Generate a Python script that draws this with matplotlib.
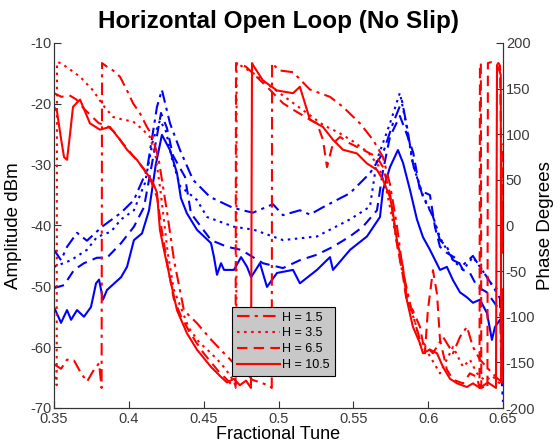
import matplotlib
matplotlib.use("Agg")
import matplotlib.pyplot as plt

plt.rcParams['font.family'] = ['Liberation Sans', 'DejaVu Sans']
plt.rcParams['axes.unicode_minus'] = False

# ---------------- data ----------------
labels = ["H = 1.5", "H = 3.5", "H = 6.5", "H = 10.5"]

# Amplitude (dBm), blue, left axis
amp_h15_x = [0.3500, 0.3547, 0.3587, 0.3654, 0.3720, 0.3821, 0.3948, 0.4034, 0.4121, 0.4188, 0.4221,
             0.4275, 0.4342, 0.4429, 0.4542, 0.4696, 0.4829, 0.4963, 0.5030, 0.5143, 0.5210, 0.5297,
             0.5390, 0.5477, 0.5611, 0.5698, 0.5765, 0.5825, 0.5860, 0.5900, 0.5965, 0.6032, 0.6079,
             0.6125, 0.6166, 0.6233, 0.6299, 0.6346, 0.6393, 0.6433, 0.6480, 0.6490, 0.6500]
amp_h15_y = [-44.0, -45.7, -43.5, -41.2, -42.5, -40.2, -37.9, -35.8, -30.9, -20.5, -17.7,
             -23.2, -27.6, -32.5, -35.3, -37.1, -37.9, -36.5, -38.3, -37.5, -38.2, -37.0,
             -35.8, -34.7, -31.4, -28.1, -23.2, -19.5, -24.0, -30.0, -35.3, -38.5, -42.4,
             -43.5, -45.7, -46.5, -45.0, -46.8, -48.5, -50.0, -52.0, -65.0, -69.0]

amp_h35_x = [0.3500, 0.3614, 0.3720, 0.3787, 0.3881, 0.3948, 0.4034, 0.4108, 0.4161, 0.4208, 0.4248,
             0.4288, 0.4342, 0.4455, 0.4522, 0.4702, 0.4836, 0.5030, 0.5257, 0.5477, 0.5611, 0.5658,
             0.5745, 0.5811, 0.5858, 0.5898, 0.5965, 0.6032, 0.6079, 0.6125, 0.6166, 0.6233, 0.6299,
             0.6346, 0.6393, 0.6433, 0.6500]
amp_h35_y = [-46.8, -45.7, -44.0, -41.9, -41.0, -39.0, -37.5, -33.0, -26.0, -22.7, -24.5,
             -29.0, -33.5, -35.8, -38.6, -40.2, -40.7, -42.4, -41.8, -39.0, -36.9, -29.2,
             -23.2, -18.2, -24.0, -30.0, -35.0, -38.5, -42.0, -44.0, -45.7, -47.3, -45.2,
             -46.8, -48.5, -50.0, -51.0]

amp_h65_x = [0.3500, 0.3567, 0.3634, 0.3700, 0.3787, 0.3854, 0.3948, 0.4034, 0.4101, 0.4161, 0.4215,
             0.4255, 0.4295, 0.4375, 0.4415, 0.4549, 0.4656, 0.4750, 0.4896, 0.5030, 0.5143, 0.5257,
             0.5364, 0.5477, 0.5564, 0.5658, 0.5698, 0.5745, 0.5811, 0.5850, 0.5900, 0.5945, 0.6012,
             0.6045, 0.6079, 0.6125, 0.6193, 0.6233, 0.6279, 0.6326, 0.6393, 0.6460, 0.6500]
amp_h65_y = [-50.3, -49.8, -47.3, -46.2, -45.3, -45.3, -42.9, -40.2, -37.0, -29.0, -21.5,
             -24.0, -28.5, -32.0, -38.0, -42.4, -43.5, -44.0, -46.2, -47.0, -45.7, -44.8,
             -43.5, -41.8, -40.2, -37.5, -31.0, -25.4, -22.0, -24.5, -28.0, -34.2, -35.0,
             -40.2, -43.5, -44.5, -45.5, -47.3, -47.8, -50.0, -51.0, -53.3, -55.0]

amp_h105_x = [0.3500, 0.3547, 0.3587, 0.3614, 0.3654, 0.3700, 0.3747, 0.3781, 0.3801, 0.3827, 0.3854,
              0.3948, 0.3988, 0.4034, 0.4088, 0.4135, 0.4180, 0.4221, 0.4275, 0.4322, 0.4348, 0.4388,
              0.4455, 0.4549, 0.4569, 0.4589, 0.4616, 0.4636, 0.4702, 0.4750, 0.4790, 0.4817, 0.4876,
              0.4923, 0.4990, 0.5097, 0.5143, 0.5257, 0.5344, 0.5364, 0.5478, 0.5591, 0.5678, 0.5698,
              0.5745, 0.5798, 0.5832, 0.5879, 0.5925, 0.5965, 0.6012, 0.6079, 0.6125, 0.6166, 0.6213,
              0.6259, 0.6299, 0.6346, 0.6393, 0.6426, 0.6446, 0.6480, 0.6500]
amp_h105_y = [-53.4, -56.0, -53.9, -55.5, -53.9, -55.0, -53.4, -49.5, -48.9, -52.2, -50.6,
              -48.5, -46.8, -42.4, -41.3, -37.5, -30.0, -25.1, -27.6, -31.4, -35.5, -38.0,
              -40.7, -42.9, -45.2, -48.1, -46.2, -47.3, -47.3, -45.2, -46.8, -48.5, -46.2,
              -50.1, -47.8, -47.3, -49.5, -47.3, -45.2, -47.3, -44.0, -41.8, -38.6, -34.2,
              -30.4, -27.6, -29.7, -34.2, -39.0, -41.9, -44.0, -47.3, -46.8, -49.0, -51.0,
              -51.8, -52.7, -52.2, -54.4, -58.8, -56.7, -55.5, -55.0]

# Phase (degrees), red, right axis
ph_h15_x = [0.3500, 0.3547, 0.3587, 0.3634, 0.3681, 0.3721, 0.3767, 0.3801, 0.3818, 0.3821, 0.3854,
            0.3894, 0.3941, 0.3988, 0.4028, 0.4074, 0.4121, 0.4155, 0.4200, 0.4255, 0.4302, 0.4368,
            0.4455, 0.4549, 0.4636, 0.4702, 0.4790, 0.4823, 0.4877, 0.4930, 0.4955, 0.4957, 0.5003,
            0.5097, 0.5210, 0.5344, 0.5431, 0.5544, 0.5631, 0.5698, 0.5745, 0.5791, 0.5831, 0.5878,
            0.5918, 0.5945, 0.6032, 0.6099, 0.6166, 0.6213, 0.6259, 0.6299, 0.6346, 0.6390, 0.6430,
            0.6465, 0.6500]
ph_h15_y = [-152, -157, -147, -148, -162, -171, -158, -151, -178, 178, 174,
            170, 163, 148, 134, 123, 108, 99, 72, 15, -38, -93,
            -107, -125, -140, -151, -162, -169, -172, -175, -178, 178, 170,
            168, 149, 141, 130, 112, 94, 75, 45, 0, -50, -85,
            -110, -125, -140, -122, -140, -122, -111, -133, -147, -155, -162,
            -168, -172]

ph_h35_x = [0.3500, 0.3512, 0.3518, 0.3520, 0.3547, 0.3674, 0.3761, 0.3827, 0.3894, 0.3961, 0.4028,
            0.4094, 0.4141, 0.4180, 0.4210, 0.4235, 0.4260, 0.4300, 0.4355, 0.4400, 0.4470, 0.4550,
            0.4620, 0.4680, 0.4718, 0.4720, 0.4780, 0.4850, 0.4900, 0.5000, 0.5100, 0.5200, 0.5300,
            0.5400, 0.5500, 0.5600, 0.5670, 0.5720, 0.5770, 0.5820, 0.5870, 0.5920, 0.5945, 0.6000,
            0.6079, 0.6166, 0.6233, 0.6279, 0.6326, 0.6380, 0.6430, 0.6470, 0.6500]
ph_h35_y = [-158, -170, -175, 179, 178, 163, 148, 132, 119, 116, 114,
            105, 97, 75, 40, 5, -30, -70, -93, -112, -128, -140,
            -152, -165, -177, 178, 172, 165, 158, 146, 134, 122, 110,
            102, 92, 80, 65, 40, 0, -45, -85, -110, -130, -140,
            -162, -133, -155, -147, -162, -170, -165, -172, -175]

ph_h65_x = [0.3500, 0.3550, 0.3600, 0.3650, 0.3700, 0.3750, 0.3800, 0.3850, 0.3900, 0.3950, 0.4000,
            0.4050, 0.4100, 0.4150, 0.4190, 0.4220, 0.4260, 0.4300, 0.4350, 0.4400, 0.4450, 0.4500,
            0.4550, 0.4600, 0.4650, 0.4690, 0.4713, 0.4716, 0.4736, 0.4783, 0.4923, 0.5030, 0.5097,
            0.5210, 0.5257, 0.5297, 0.5324, 0.5364, 0.5411, 0.5477, 0.5564, 0.5658, 0.5698, 0.5745,
            0.5791, 0.5831, 0.5858, 0.5898, 0.5945, 0.5978, 0.5998, 0.6032, 0.6059, 0.6079, 0.6125,
            0.6166, 0.6233, 0.6279, 0.6326, 0.6343, 0.6346, 0.6352, 0.6355, 0.6380, 0.6396, 0.6399,
            0.6420, 0.6450, 0.6470, 0.6480, 0.6490, 0.6495, 0.6500]
ph_h65_y = [145, 141, 143, 138, 128, 120, 112, 110, 103, 92, 82,
            72, 62, 48, 30, -5, -45, -80, -100, -115, -128, -140,
            -150, -160, -168, -175, -178, 178, 177, 174, 152, 134, 127,
            116, 112, 94, 64, 90, 97, 90, 83, 75, 64, 35,
            -20, -55, -85, -93, -111, -140, -93, -49, -75, -125, -158,
            -169, -173, -162, -166, -178, 178, 178, -178, -176, -178, 178,
            179, 176, 178, 175, 60, -30, 90]

ph_h105_x = [0.3500, 0.3520, 0.3547, 0.3567, 0.3587, 0.3607, 0.3627, 0.3674, 0.3707, 0.3740, 0.3807,
             0.3874, 0.3907, 0.3941, 0.3988, 0.4054, 0.4121, 0.4161, 0.4188, 0.4208, 0.4235, 0.4282,
             0.4322, 0.4388, 0.4455, 0.4549, 0.4616, 0.4656, 0.4702, 0.4742, 0.4783, 0.4816, 0.4823,
             0.4829, 0.4896, 0.4990, 0.5097, 0.5143, 0.5210, 0.5297, 0.5364, 0.5431, 0.5524, 0.5591,
             0.5658, 0.5698, 0.5745, 0.5765, 0.5791, 0.5831, 0.5858, 0.5898, 0.5945, 0.5965, 0.6012,
             0.6059, 0.6099, 0.6146, 0.6193, 0.6259, 0.6299, 0.6346, 0.6399, 0.6453, 0.6460, 0.6475,
             0.6485, 0.6488, 0.6495, 0.6500]
ph_h105_y = [130, 125, 95, 75, 72, 100, 130, 138, 125, 112, 105,
             108, 101, 94, 83, 72, 57, 47, 36, -5, -27, -63,
             -93, -118, -136, -155, -166, -172, -168, -175, -170, -178, 178,
             176, 159, 148, 145, 152, 116, 108, 94, 83, 79, 68,
             61, 50, 31, 14, -16, -45, -82, -111, -129, -140, -136,
             -140, -155, -168, -173, -177, -173, -178, -172, -178, 176, 170,
             165, -172, -150, -70]

x_ticks = [0.35, 0.4, 0.45, 0.5, 0.55, 0.6, 0.65]
x_tick_labels = ["0.35", "0.4", "0.45", "0.5", "0.55", "0.6", "0.65"]
amp_ticks = [-70, -60, -50, -40, -30, -20, -10]
phase_ticks = [-200, -150, -100, -50, 0, 50, 100, 150, 200]

# ---------------- plotting ----------------
W, H = 557, 445
fig = plt.figure(figsize=(W / 100, H / 100), dpi=100)
ax = fig.add_axes([54 / W, (H - 408) / H, 449 / W, 365 / H])
ax2 = ax.twinx()

styles = [dict(linestyle=(0, (6, 2.5, 1.5, 2.5))),
          dict(linestyle=(0, (1.2, 2.2))),
          dict(linestyle=(0, (5, 3))),
          dict(linestyle='-')]

lw = 1.5
amp_x = [amp_h15_x, amp_h35_x, amp_h65_x, amp_h105_x]
amp_y = [amp_h15_y, amp_h35_y, amp_h65_y, amp_h105_y]
ph_x = [ph_h15_x, ph_h35_x, ph_h65_x, ph_h105_x]
ph_y = [ph_h15_y, ph_h35_y, ph_h65_y, ph_h105_y]

for xs, ys, st in zip(amp_x, amp_y, styles):
    ax.plot(xs, ys, color='#0000ff', lw=lw, **st)

handles = []
for xs, ys, st, lab in zip(ph_x, ph_y, styles, labels):
    h, = ax2.plot(xs, ys, color='#ff0000', lw=lw, label=lab, **st)
    handles.append(h)

ax.set_xlim(0.35, 0.65)
ax.set_ylim(-70, -10)
ax2.set_ylim(-200, 200)

ax.set_xticks(x_ticks)
ax.set_xticklabels(x_tick_labels)
ax.set_yticks(amp_ticks)
ax2.set_yticks(phase_ticks)

tick_color = '#3a3a3a'
for a in (ax, ax2):
    a.spines['top'].set_visible(False)
    a.tick_params(direction='in', length=5, width=0.8, labelsize=10.5, labelcolor=tick_color, color='#333333')
    for s in a.spines.values():
        s.set_color('#333333')
        s.set_linewidth(0.8)
ax.tick_params(axis='x', pad=3)
ax.tick_params(axis='y', pad=2)
ax2.tick_params(axis='y', pad=2)

ax.set_xlabel("Fractional Tune", fontsize=13, labelpad=0)
ax.set_ylabel("Amplitude dBm", fontsize=13.5, labelpad=6)
ax2.set_ylabel("Phase Degrees", fontsize=13.5, labelpad=1)
ax.set_title("Horizontal Open Loop (No Slip)", fontsize=17.5, fontweight='bold', pad=11)

leg = ax2.legend(handles=handles, loc='lower left',
                 bbox_to_anchor=((232 - 54) / 449, (408 - 376) / 365),
                 fontsize=9, frameon=True, fancybox=False, framealpha=1,
                 handlelength=3.4, handletextpad=0.2, borderpad=0.4,
                 labelspacing=0.3, borderaxespad=0)
leg.get_frame().set_facecolor('#c8c8c8')
leg.get_frame().set_edgecolor('#000000')
leg.get_frame().set_linewidth(0.8)

fig.savefig("out.png", dpi=100, facecolor='white')
